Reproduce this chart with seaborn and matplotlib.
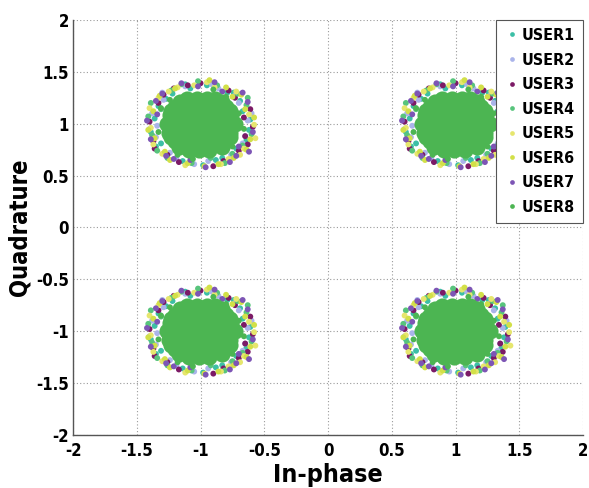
import matplotlib
matplotlib.use("Agg")
import matplotlib.pyplot as plt
import seaborn as sns
import pandas as pd

# QPSK constellation points (in-phase, quadrature)
centers_i = [-1, 1, -1, 1]
centers_q = [1, 1, -1, -1]

users = ["USER1", "USER2", "USER3", "USER4", "USER5", "USER6", "USER7", "USER8"]
colors = ["#3cbfa6", "#aab4ea", "#7c1a66", "#58c47c", "#e6e66e", "#d2e048", "#7d55b5", "#4cb552"]

# received-symbol offsets around each constellation point, per user
u1_dx = [0.33, -0.36, 0.12, -0.22, 0.28, -0.31, 0.05, 0.38, -0.14, 0.21, -0.39, 0.31, -0.27, 0.02, -0.33, 0.36, -0.08, 0.17, 0.39, -0.35, 0.26, -0.12]
u1_dy = [0.12, 0.05, -0.35, 0.29, -0.24, -0.19, 0.37, -0.06, -0.36, 0.30, -0.08, 0.22, 0.24, -0.40, 0.17, -0.16, 0.34, -0.33, 0.04, -0.22, 0.30, 0.38]
u2_dx = [-0.35, 0.30, 0.09, -0.19, 0.37, -0.29, 0.24, -0.05, 0.14, -0.38, 0.33, -0.24, 0.40, -0.12, 0.27, -0.34, 0.06, -0.30, 0.35, -0.40, 0.18]
u2_dy = [-0.13, 0.20, 0.38, -0.33, 0.03, 0.23, -0.30, -0.39, 0.34, 0.10, -0.19, -0.28, 0.10, 0.36, 0.27, -0.02, -0.36, 0.30, -0.12, -0.05, -0.37]
u3_dx = [0.27, -0.37, 0.35, -0.10, 0.18, -0.33, 0.39, -0.26, 0.00, 0.30, -0.40, 0.22, -0.17, 0.41, -0.29, 0.10, -0.36, 0.34, -0.21, 0.37]
u3_dy = [0.25, -0.17, -0.12, 0.37, -0.36, 0.20, 0.14, -0.30, 0.39, -0.26, 0.02, 0.32, -0.37, -0.03, 0.28, -0.41, -0.24, 0.06, 0.34, -0.20]
u4_dx = [-0.31, 0.36, -0.07, 0.25, -0.38, 0.13, -0.23, 0.40, -0.34, 0.29, -0.02, 0.19, -0.41, 0.33, -0.15, 0.37, -0.26, 0.08, -0.39, 0.30]
u4_dy = [0.14, 0.18, -0.38, -0.29, -0.11, 0.37, 0.32, -0.10, -0.26, 0.29, 0.41, -0.38, 0.07, -0.21, 0.38, 0.25, -0.33, -0.33, 0.20, -0.02]
u5_dx = [0.38, -0.25, 0.16, -0.39, 0.28, -0.12, 0.34, -0.33, 0.05, -0.30, 0.42, -0.18, 0.22, -0.40, 0.11, -0.37, 0.31, -0.05, 0.43]
u5_dy = [0.09, 0.31, -0.39, -0.04, 0.31, -0.40, -0.24, 0.25, 0.40, -0.29, -0.01, 0.35, -0.34, 0.15, 0.35, -0.20, -0.30, 0.37, -0.14]
u6_dx = [-0.28, 0.35, -0.37, 0.20, 0.03, -0.20, 0.39, -0.41, 0.26, -0.10, 0.32, -0.32, 0.14, 0.42, -0.24, 0.07, -0.36, 0.25, 0.36]
u6_dy = [-0.27, 0.14, 0.12, 0.35, -0.41, 0.34, -0.15, -0.06, -0.33, -0.38, 0.28, 0.27, -0.39, 0.06, -0.35, 0.42, -0.14, 0.26, -0.25]
u7_dx = [0.30, -0.34, 0.11, -0.21, 0.37, -0.39, 0.23, -0.15, 0.41, -0.30, 0.04, -0.42, 0.33, -0.27, 0.17, 0.38, -0.08, -0.35, -0.02, 0.28]
u7_dy = [-0.22, 0.09, 0.40, -0.34, 0.21, -0.15, -0.37, 0.39, -0.08, 0.29, -0.42, 0.03, 0.30, -0.31, 0.31, -0.27, -0.35, 0.22, 0.36, -0.31]
u8_dx = [0.30, -0.33, 0.10, -0.06, 0.25, -0.24, 0.34, -0.18, 0.20, -0.31]
u8_dy = [0.10, -0.08, 0.33, -0.34, -0.22, 0.23, -0.05, -0.30, 0.26, 0.15]

# USER8 dense core of each cloud
core_dx = [-0.09, -0.01, 0.07,
           -0.20, -0.12, -0.04, 0.04, 0.12, 0.19,
           -0.25, -0.17, -0.09, -0.01, 0.07, 0.15, 0.23,
           -0.26, -0.18, -0.10, -0.02, 0.06, 0.14, 0.22, 0.27,
           -0.24, -0.16, -0.08, 0.00, 0.08, 0.16, 0.24,
           -0.20, -0.12, -0.04, 0.04, 0.12, 0.20,
           -0.11, -0.03, 0.05, 0.11,
           -0.17, 0.17, -0.23, 0.23, -0.16, 0.17, -0.23, 0.23]
core_dy = [-0.25, -0.25, -0.25,
           -0.17, -0.17, -0.17, -0.17, -0.17, -0.17,
           -0.09, -0.09, -0.09, -0.09, -0.09, -0.09, -0.09,
           0.00, 0.00, 0.00, 0.00, 0.00, 0.00, 0.00, 0.00,
           0.08, 0.08, 0.08, 0.08, 0.08, 0.08, 0.08,
           0.16, 0.16, 0.16, 0.16, 0.16, 0.16,
           0.24, 0.24, 0.24, 0.24,
           -0.22, -0.22, -0.13, -0.13, 0.21, 0.21, 0.12, 0.12]

offsets = {
    "USER1": (u1_dx, u1_dy), "USER2": (u2_dx, u2_dy), "USER3": (u3_dx, u3_dy),
    "USER4": (u4_dx, u4_dy), "USER5": (u5_dx, u5_dy), "USER6": (u6_dx, u6_dy),
    "USER7": (u7_dx, u7_dy), "USER8": (u8_dx, u8_dy),
}

rows = []
for ci, cq in zip(centers_i, centers_q):
    for u in users:
        dxs, dys = offsets[u]
        for dx, dy in zip(dxs, dys):
            rows.append((u, ci + dx, cq + dy))
df = pd.DataFrame(rows, columns=["user", "I", "Q"])

core_rows = []
for ci, cq in zip(centers_i, centers_q):
    for dx, dy in zip(core_dx, core_dy):
        core_rows.append((ci + dx, cq + dy))
core = pd.DataFrame(core_rows, columns=["I", "Q"])

sns.set_style("white")
plt.rcParams["font.family"] = ["DejaVu Sans Condensed", "Liberation Sans Narrow", "DejaVu Sans"]
plt.rcParams["font.stretch"] = "condensed"
plt.rcParams["font.weight"] = "bold"
plt.rcParams["text.color"] = "black"
plt.rcParams["axes.labelcolor"] = "black"
plt.rcParams["xtick.color"] = "black"
plt.rcParams["ytick.color"] = "black"

fig = plt.figure(figsize=(5.89, 4.88), dpi=100)
ax = fig.add_axes([0.124, 0.109, 0.866, 0.85])

sns.scatterplot(data=df, x="I", y="Q", hue="user", hue_order=users,
                palette=colors, s=18, linewidth=0, ax=ax, legend=True, zorder=2)
sns.scatterplot(data=core, x="I", y="Q", color=colors[7], s=135,
                linewidth=0, ax=ax, legend=False, zorder=3)

ax.set_xlim(-2, 2)
ax.set_ylim(-2, 2)
ticks = [-2, -1.5, -1, -0.5, 0, 0.5, 1, 1.5, 2]
tick_labels = ["-2", "-1.5", "-1", "-0.5", "0", "0.5", "1", "1.5", "2"]
ax.set_xticks(ticks)
ax.set_xticklabels(tick_labels)
ax.set_yticks(ticks)
ax.set_yticklabels(tick_labels)
ax.tick_params(direction="in", length=4, width=0.8, color="#555555",
               labelsize=12, pad=3)
for lab in ax.get_xticklabels() + ax.get_yticklabels():
    lab.set_fontweight("bold")
ax.tick_params(axis="x", pad=5)

ax.grid(True, linestyle=(0, (1, 2)), color="#9a9a9a", linewidth=0.8)
ax.set_axisbelow(True)
for side in ["top", "right"]:
    ax.spines[side].set_visible(False)
for side in ["left", "bottom"]:
    ax.spines[side].set_color("#555555")
    ax.spines[side].set_linewidth(1.0)

ax.set_xlabel("In-phase", fontsize=18, fontweight="bold", labelpad=2)
ax.set_ylabel("Quadrature", fontsize=17, fontweight="bold", labelpad=3)

leg = ax.legend(loc="upper right", borderaxespad=0, frameon=True, fancybox=False,
                markerscale=0.8, labelspacing=0.6, handletextpad=0.2,
                handlelength=0.9, borderpad=0.5,
                prop={"weight": "bold", "size": 11.5, "stretch": "condensed"})
leg.get_frame().set_edgecolor("#555555")
leg.get_frame().set_linewidth(0.8)
leg.get_frame().set_facecolor("white")
leg.get_frame().set_alpha(1)
leg.set_zorder(5)

fig.savefig("out.png", dpi=100)
